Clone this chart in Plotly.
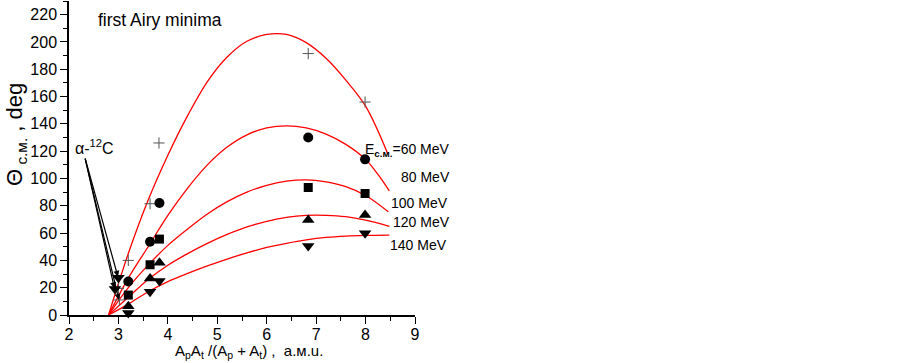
import plotly.graph_objects as go

# ---- data ----
curve_labels = ["60 MeV", "80 MeV", "100 MeV", "120 MeV", "140 MeV"]
c60_x = [2.8, 3.2, 3.6, 4.0, 4.4, 4.8, 5.2, 5.6, 6.0, 6.4, 6.8, 7.2, 7.6, 8.0, 8.45]
c60_y = [0, 45, 84, 117, 146, 171, 189, 200.5, 205.5, 205.5, 199.5, 188, 172, 153, 118]
c80_x = [2.8, 3.2, 3.6, 4.0, 4.4, 4.8, 5.2, 5.6, 6.0, 6.4, 6.8, 7.2, 7.6, 8.0, 8.25, 8.48]
c80_y = [0, 27, 50, 73, 93, 110, 123, 132, 137, 138.5, 137, 132.5, 125, 114, 103, 91]
c100_x = [2.8, 3.2, 3.6, 4.0, 4.4, 4.8, 5.2, 5.6, 6.0, 6.4, 6.8, 7.2, 7.6, 8.0, 8.46]
c100_y = [0, 20, 36.5, 51, 63, 74, 83, 90, 95, 98, 99, 97.5, 94, 87.5, 75.6]
c120_x = [2.8, 3.2, 3.6, 4.0, 4.4, 4.8, 5.2, 5.6, 6.0, 6.4, 6.8, 7.2, 7.6, 8.0, 8.48]
c120_y = [0, 13, 26, 36.5, 45, 52.5, 59, 64.5, 68.5, 71.5, 73, 73, 72, 69.5, 65]
c140_x = [2.8, 3.2, 3.6, 4.0, 4.4, 4.8, 5.2, 5.6, 6.0, 6.4, 6.8, 7.2, 7.6, 8.0, 8.48]
c140_y = [0, 8, 17, 24.5, 30.5, 36, 41, 45.5, 49.5, 52.5, 55, 56.8, 57.8, 58.3, 58.5]

plus_x = [3.0, 3.02, 3.2, 3.64, 3.82, 6.84, 7.99]
plus_y = [19.5, 11, 40, 81.5, 126, 191.5, 156]
circ_x = [3.2, 3.64, 3.83, 6.84, 7.99]
circ_y = [24.6, 53.6, 82, 130, 114]
sq_x = [3.2, 3.64, 3.83, 6.84, 7.99]
sq_y = [14.6, 36.8, 55.6, 93.4, 89]
tup_x = [3.2, 3.64, 3.83, 6.84, 7.99]
tup_y = [6.5, 26.8, 38.3, 69.5, 73.2]
tdn_x = [2.93, 3.0, 3.2, 3.64, 3.83, 6.84, 7.99]
tdn_y = [19, 27.3, 1.5, 17, 24.9, 50.5, 59.8]

x_ticks = [2, 3, 4, 5, 6, 7, 8, 9]
y_ticks = list(range(0, 240, 20))

FONT = "Arial, Liberation Sans, sans-serif"
L, R, T, B = 69, 488, 1, 48
PW, PH = 903 - L - R, 363 - T - B

fig = go.Figure()

for cx, cy in [(c60_x, c60_y), (c80_x, c80_y), (c100_x, c100_y), (c120_x, c120_y), (c140_x, c140_y)]:
    fig.add_trace(go.Scatter(x=cx, y=cy, mode="lines", line=dict(color="#ff0000", width=1.3, shape="spline"),
                             showlegend=False, hoverinfo="skip", cliponaxis=False))

fig.add_trace(go.Scatter(x=plus_x, y=plus_y, mode="markers", cliponaxis=False, showlegend=False,
                         marker=dict(symbol="cross-thin", size=8, line=dict(color="#555555", width=1))))
fig.add_trace(go.Scatter(x=circ_x, y=circ_y, mode="markers", cliponaxis=False, showlegend=False,
                         marker=dict(symbol="circle", size=10, color="black")))
fig.add_trace(go.Scatter(x=sq_x, y=sq_y, mode="markers", cliponaxis=False, showlegend=False,
                         marker=dict(symbol="square", size=9, color="black")))
fig.add_trace(go.Scatter(x=tup_x, y=tup_y, mode="markers", cliponaxis=False, showlegend=False,
                         marker=dict(symbol="triangle-up", size=11, color="black")))
fig.add_trace(go.Scatter(x=tdn_x, y=tdn_y, mode="markers", cliponaxis=False, showlegend=False,
                         marker=dict(symbol="triangle-down", size=11, color="black")))

annotations = []
label_pos = [(7.95, 120.7), (8.68, 101.2), (8.48, 81.9), (8.52, 68.3), (8.46, 51.2)]
for i, (lab, (lx, ly)) in enumerate(zip(curve_labels, label_pos)):
    txt = ("E<sub><b>c.м.</b></sub>=" + lab) if i == 0 else lab
    annotations.append(dict(x=lx, y=ly, xref="x", yref="y", text=txt, showarrow=False,
                            xanchor="left", yanchor="middle", font=dict(family=FONT, size=14, color="black")))
annotations.append(dict(x=2.55, y=215.8, xref="x", yref="y", text="first Airy minima", showarrow=False,
                        xanchor="left", yanchor="middle", font=dict(family=FONT, size=17.5, color="black")))
annotations.append(dict(x=2.09, y=123, xref="x", yref="y", text="α-<sup>12</sup>C", showarrow=False,
                        xanchor="left", yanchor="middle", font=dict(family=FONT, size=16, color="black")))
for tx, ty in [(2.99, 28), (2.92, 19.5), (3.01, 11)]:
    annotations.append(dict(x=tx, y=ty, xref="x", yref="y", ax=2.32, ay=115.6, axref="x", ayref="y",
                            text="", showarrow=True, arrowhead=2, arrowsize=1, arrowwidth=1.2,
                            arrowcolor="black", standoff=0))
annotations.append(dict(x=(248.5 - L) / PW, y=(315 - 351) / PH, xref="paper", yref="paper", showarrow=False,
                        text="A<sub>p</sub>A<sub>t</sub> /(A<sub>p</sub> + A<sub>t</sub>) ,  а.м.u.",
                        xanchor="center", yanchor="middle", font=dict(family=FONT, size=15, color="black")))
annotations.append(dict(x=(16 - L) / PW, y=(315 - 135) / PH, xref="paper", yref="paper", showarrow=False,
                        text="Θ<sub>&nbsp;c.м.</sub>&nbsp;,&nbsp;deg", textangle=-90, xanchor="center",
                        yanchor="middle", font=dict(family=FONT, size=22, color="black")))
for a in annotations:
    fig.add_annotation(**a)

axis_common = dict(showline=True, linecolor="black", linewidth=1.5, ticks="outside", ticklen=7, tickwidth=1.3,
                   tickcolor="black", showgrid=False, zeroline=False, automargin=False,
                   tickfont=dict(family=FONT, size=16, color="black"))
fig.update_layout(
    width=903, height=363, margin=dict(l=L, r=R, t=T, b=B, autoexpand=False),
    paper_bgcolor="white", plot_bgcolor="white",
    xaxis=dict(range=[2, 9], tickvals=x_ticks, ticklabelstandoff=-3, **axis_common,
               minor=dict(dtick=0.5, ticks="outside", ticklen=4, tickwidth=1.2, tickcolor="black", showgrid=False)),
    yaxis=dict(range=[0, 230], tickvals=y_ticks, **axis_common,
               minor=dict(dtick=10, ticks="outside", ticklen=4, tickwidth=1.2, tickcolor="black", showgrid=False)),
)

fig.write_html("out.html", config={"displayModeBar": False},
               post_script="document.body.style.margin='0';")
